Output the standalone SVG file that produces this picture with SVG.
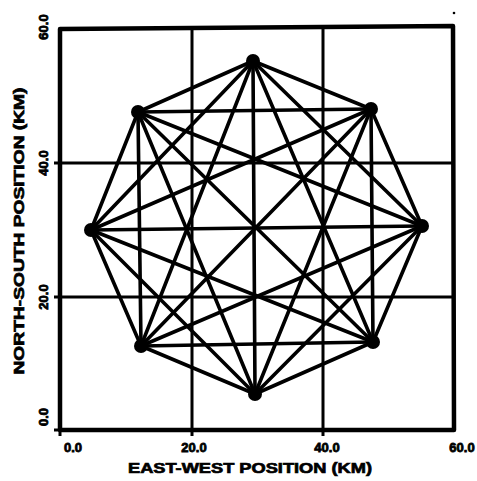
<svg xmlns="http://www.w3.org/2000/svg" width="477" height="481" viewBox="0 0 477 481">
<style>
.frame{fill:none;stroke:#000;stroke-width:4.5;stroke-linejoin:round}
.grid{stroke:#000;stroke-width:3;fill:none}
.edge{stroke:#000;stroke-width:3.6;stroke-linecap:round}
.node{fill:#000}
.tick{font-family:"Liberation Sans",Arial,sans-serif;font-weight:bold;font-size:13px;fill:#000;stroke:#000;stroke-width:0.8}
.lab{font-family:"Liberation Sans",Arial,sans-serif;font-weight:bold;font-size:15px;fill:#000;stroke:#000;stroke-width:0.7}
</style>
<rect width="477" height="481" fill="#fff"/>
<g id="axes">
<path class="frame" d="M60,29 L453,26 L454,430 L60,430 Z"/>
<path class="grid" d="M192,28 V436 M323,27 V436 M54,163 H454 M54,297 H454 M60,430 V436 M54,430 H60"/>
<circle cx="454" cy="13" r="1.3" fill="#000"/>
</g>
<g id="ticklabels">
<text class="tick" x="73" y="452" text-anchor="middle">0.0</text>
<text class="tick" x="194" y="452" text-anchor="middle">20.0</text>
<text class="tick" x="327" y="452" text-anchor="middle">40.0</text>
<text class="tick" x="462" y="452" text-anchor="middle">60.0</text>
<text class="tick" transform="translate(48,417) rotate(-90)" text-anchor="middle">0.0</text>
<text class="tick" transform="translate(48,297) rotate(-90)" text-anchor="middle">20.0</text>
<text class="tick" transform="translate(48,163) rotate(-90)" text-anchor="middle">40.0</text>
<text class="tick" transform="translate(48,27) rotate(-90)" text-anchor="middle">60.0</text>
</g>
<g id="axislabels">
<text class="lab" x="250" y="473" text-anchor="middle" textLength="244" lengthAdjust="spacingAndGlyphs">EAST-WEST POSITION (KM)</text>
<text class="lab" transform="translate(24,231) rotate(-90)" text-anchor="middle" textLength="287" lengthAdjust="spacingAndGlyphs">NORTH-SOUTH POSITION (KM)</text>
</g>
<g id="connectors">
<line class="edge" x1="253" y1="61" x2="371" y2="109"/>
<line class="edge" x1="253" y1="61" x2="422" y2="226"/>
<line class="edge" x1="253" y1="61" x2="373" y2="342"/>
<line class="edge" x1="253" y1="61" x2="255" y2="394"/>
<line class="edge" x1="253" y1="61" x2="141" y2="346"/>
<line class="edge" x1="253" y1="61" x2="91" y2="230"/>
<line class="edge" x1="253" y1="61" x2="138" y2="112"/>
<line class="edge" x1="371" y1="109" x2="422" y2="226"/>
<line class="edge" x1="371" y1="109" x2="373" y2="342"/>
<line class="edge" x1="371" y1="109" x2="255" y2="394"/>
<line class="edge" x1="371" y1="109" x2="141" y2="346"/>
<line class="edge" x1="371" y1="109" x2="91" y2="230"/>
<line class="edge" x1="371" y1="109" x2="138" y2="112"/>
<line class="edge" x1="422" y1="226" x2="373" y2="342"/>
<line class="edge" x1="422" y1="226" x2="255" y2="394"/>
<line class="edge" x1="422" y1="226" x2="141" y2="346"/>
<line class="edge" x1="422" y1="226" x2="91" y2="230"/>
<line class="edge" x1="422" y1="226" x2="138" y2="112"/>
<line class="edge" x1="373" y1="342" x2="255" y2="394"/>
<line class="edge" x1="373" y1="342" x2="141" y2="346"/>
<line class="edge" x1="373" y1="342" x2="91" y2="230"/>
<line class="edge" x1="373" y1="342" x2="138" y2="112"/>
<line class="edge" x1="255" y1="394" x2="141" y2="346"/>
<line class="edge" x1="255" y1="394" x2="91" y2="230"/>
<line class="edge" x1="255" y1="394" x2="138" y2="112"/>
<line class="edge" x1="141" y1="346" x2="91" y2="230"/>
<line class="edge" x1="141" y1="346" x2="138" y2="112"/>
<line class="edge" x1="91" y1="230" x2="138" y2="112"/>
</g>
<g id="n1"><circle class="node" cx="253" cy="61" r="7"/></g>
<g id="n2"><circle class="node" cx="371" cy="109" r="7"/></g>
<g id="n3"><circle class="node" cx="422" cy="226" r="7"/></g>
<g id="n4"><circle class="node" cx="373" cy="342" r="7"/></g>
<g id="n5"><circle class="node" cx="255" cy="394" r="7"/></g>
<g id="n6"><circle class="node" cx="141" cy="346" r="7"/></g>
<g id="n7"><circle class="node" cx="91" cy="230" r="7"/></g>
<g id="n8"><circle class="node" cx="138" cy="112" r="7"/></g>
</svg>
